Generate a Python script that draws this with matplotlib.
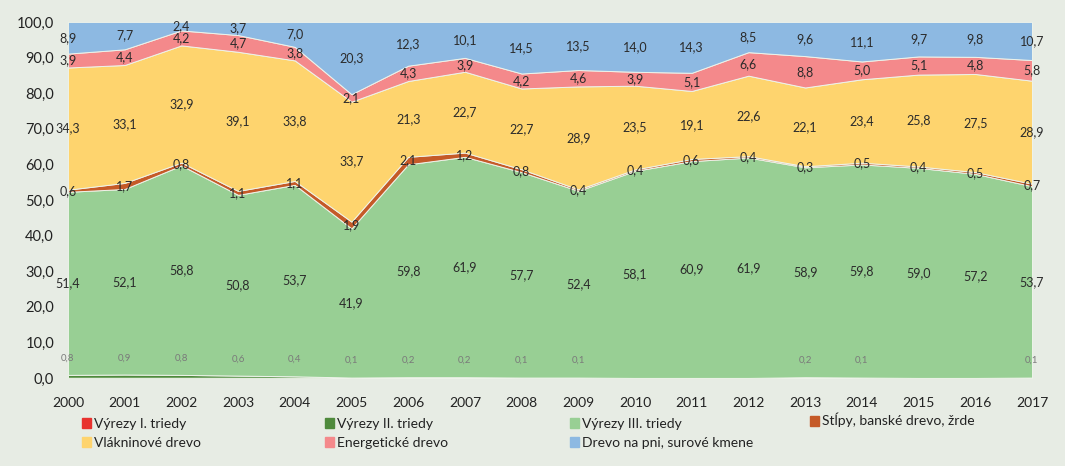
import matplotlib.pyplot as plt
import numpy as np

years = list(range(2000, 2018))

vyrezy_1 = [0.05, 0.05, 0.05, 0.05, 0.05, 0, 0, 0, 0, 0, 0, 0, 0, 0, 0, 0, 0, 0]
vyrezy_2 = [0.8, 0.9, 0.8, 0.6, 0.4, 0.1, 0.2, 0.2, 0.1, 0.1, 0, 0, 0, 0.2, 0.1, 0, 0, 0.1]
vyrezy_3 = [51.4, 52.1, 58.8, 50.8, 53.7, 41.9, 59.8, 61.9, 57.7, 52.4, 58.1, 60.9, 61.9, 58.9, 59.8, 59.0, 57.2, 53.7]
stlpy = [0.6, 1.7, 0.8, 1.1, 1.1, 1.9, 2.1, 1.2, 0.8, 0.4, 0.4, 0.6, 0.4, 0.3, 0.5, 0.4, 0.5, 0.7]
vlakninove = [34.3, 33.1, 32.9, 39.1, 33.8, 33.7, 21.3, 22.7, 22.7, 28.9, 23.5, 19.1, 22.6, 22.1, 23.4, 25.8, 27.5, 28.9]
energeticke = [3.9, 4.4, 4.2, 4.7, 3.8, 2.1, 4.3, 3.9, 4.2, 4.6, 3.9, 5.1, 6.6, 8.8, 5.0, 5.1, 4.8, 5.8]
drevo_na_pni = [8.9, 7.7, 2.4, 3.7, 7.0, 20.3, 12.3, 10.1, 14.5, 13.5, 14.0, 14.3, 8.5, 9.6, 11.1, 9.7, 9.8, 10.7]

names = ['Výrezy I. triedy', 'Výrezy II. triedy', 'Výrezy III. triedy',
         'Stĺpy, banské drevo, žrde', 'Vlákninové drevo', 'Energetické drevo',
         'Drevo na pni, surové kmene']
colors = ['#E8322E', '#4F8A3C', '#98CF94', '#C55A28', '#FED46E', '#F4898B', '#8DB9E2']
series = [vyrezy_1, vyrezy_2, vyrezy_3, stlpy, vlakninove, energeticke, drevo_na_pni]

bg = '#E7ECE4'
plt.rcParams['font.family'] = ['Lato', 'DejaVu Sans']

fig = plt.figure(figsize=(10.65, 4.66), dpi=100, facecolor=bg)
ax = fig.add_axes([0.0638, 0.189, 0.9052, 0.764])
ax.set_facecolor(bg)

# 100% stacked area, labels show the original values
data = np.array(series)
pct = data / data.sum(axis=0) * 100
ax.stackplot(years, *pct, colors=colors, edgecolor='#EEF3EA', linewidth=0.7)

cum = np.cumsum(pct, axis=0)
for i in range(1, len(series)):
    for j, yr in enumerate(years):
        v = data[i, j]
        if v == 0:
            continue
        txt = f'{v:.1f}'.replace('.', ',')
        mid = cum[i, j] - pct[i, j] / 2
        if i == 1:
            ax.text(yr, mid + 5.0, txt, ha='center', va='center',
                    fontsize=7, color='#7A7A7A', clip_on=False)
        else:
            ax.text(yr, mid, txt, ha='center', va='center',
                    fontsize=9, color='#2B2B2B', clip_on=False)

ax.set_xlim(2000, 2017)
ax.set_ylim(0, 100)
ax.set_xticks(years)
ax.set_xticklabels([str(y) for y in years], fontsize=10, color='#222222')
ax.set_yticks(range(0, 101, 10))
ax.set_yticklabels([f'{v:.1f}'.replace('.', ',') for v in range(0, 101, 10)],
                   fontsize=10.5, color='#222222')
ax.tick_params(axis='both', length=0)
ax.tick_params(axis='x', pad=14)
ax.tick_params(axis='y', pad=10)
for s in ax.spines.values():
    s.set_visible(False)

# legend: four columns placed like the original
handles = [plt.Rectangle((0, 0), 1, 1, color=c) for c in colors]
cols = [[0, 4], [1, 5], [2, 6], [3]]
col_x = [75, 318, 563, 803]
col_top = [411, 411, 411, 406]
for idx, x, top in zip(cols, col_x, col_top):
    fig.legend([handles[k] for k in idx], [names[k] for k in idx],
               loc='upper left', bbox_to_anchor=(x / 1065, 1 - top / 466),
               frameon=False, fontsize=10, handlelength=0.65, handleheight=0.75,
               handletextpad=0.25, labelspacing=0.5, borderpad=0,
               labelcolor='#222222')

fig.savefig('out.png', dpi=100, facecolor=bg)
